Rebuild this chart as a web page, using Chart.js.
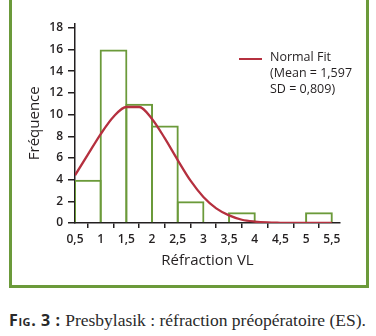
<!DOCTYPE html>
<html><head><meta charset="utf-8">
<script src="https://cdn.jsdelivr.net/npm/chart.js@4.4.1/dist/chart.umd.min.js"></script>
<style>
html,body{margin:0;padding:0;background:#fff;width:376px;height:336px;overflow:hidden;position:relative}
#box{position:absolute;left:9px;top:-10px;width:360px;height:298px;border:3px solid #6b9a3a;box-sizing:border-box}
#wrap{position:absolute;left:0;top:0;width:376px;height:290px}
#legend{position:absolute;left:239px;top:49px;font-family:"Open Sans",sans-serif;font-size:12.5px;line-height:16px;color:#231f20}
#legend .sw{position:absolute;left:0;top:9px;width:23px;height:2px;background:#b5303f}
#legend .tx{position:absolute;left:31px;top:0;white-space:nowrap}
#cap{position:absolute;left:9px;top:309px;white-space:nowrap;color:#2a2a2a}
#cap .fig{font-family:"Open Sans",sans-serif;font-weight:700;font-variant:small-caps;font-size:16px;letter-spacing:0.6px}
#cap .txt{font-family:"Liberation Serif",serif;font-size:17.5px}
</style></head>
<body>
<div id="box"></div>
<div id="wrap"><canvas id="c" width="376" height="290"></canvas></div>
<div id="legend"><div class="sw"></div><div class="tx" id="legtx"></div></div>
<div id="cap"><span class="fig">Fig. 3 :</span><span class="txt"> Presbylasik : réfraction préopératoire (ES).</span></div>
<script>
const binStarts = [0.5, 1, 1.5, 2, 2.5, 3, 3.5, 4, 4.5, 5];
const binCounts = [4, 16, 11, 9, 2, 0, 1, 0, 0, 1];
const fitX = [0.5,0.75,1,1.25,1.5,1.75,2,2.25,2.5,2.75,3,3.25,3.5,3.75,4,4.25,4.5,4.75,5,5.25,5.5];
const fitY = [4.4,6.3,8.2,9.8,10.7,10.7,9.6,7.8,5.8,3.9,2.4,1.35,0.7,0.3,0.13,0.05,0.02,0,0,0,0];
const xTicks = [0.5,1,1.5,2,2.5,3,3.5,4,4.5,5,5.5];
const xTickLabels = ['0,5','1','1,5','2','2,5','3','3,5','4','4,5','5','5,5'];
const yTicks = [0,2,4,6,8,10,12,14,16,18];
const yTickLabels = ['0','2','4','6','8','10','12','14','16','18'];
const legendLines = ['Normal Fit','(Mean = 1,597','SD = 0,809)'];
const xTitle = 'Réfraction VL';
const yTitle = 'Fréquence';

document.getElementById('legtx').innerHTML = legendLines.join('<br>');

const BIN_W = 0.5;
const barData = binStarts.map((s,i)=>({x:s+BIN_W/2, y:binCounts[i]}));
const fitData = fitX.map((x,i)=>({x:x, y:fitY[i]}));
const GREEN = '#6b9a3a', RED = '#b5303f', INK = '#231f20';
const tickFont = {family:'"Open Sans", sans-serif', size:12, weight:'600'};
const titleFont = {family:'"Open Sans", sans-serif', size:15, weight:'500'};

new Chart(document.getElementById('c'), {
  type:'bar',
  data:{datasets:[
    {type:'line', data:fitData, borderColor:RED, borderWidth:2.3, pointRadius:0, cubicInterpolationMode:'monotone', fill:false, order:0},
    {type:'bar', data:barData, backgroundColor:'rgba(0,0,0,0)', borderColor:GREEN,
     borderWidth:2, borderSkipped:'start', barPercentage:1.08, categoryPercentage:1, order:1}
  ]},
  options:{
    responsive:false, animation:false, events:[],
    layout:{padding:{left:0,right:36,top:23.5,bottom:0}},
    plugins:{legend:{display:false}, tooltip:{enabled:false}},
    scales:{
      x:{type:'linear', min:0.5, max:5.66, offset:false,
        afterBuildTicks:s=>{s.ticks = xTicks.map(v=>({value:v}));},
        afterFit:s=>{s.height = 67;},
        ticks:{color:INK, font:tickFont, padding:4, maxRotation:0, autoSkip:false,
          callback:(v)=>{const i=xTicks.indexOf(v); return i>=0?xTickLabels[i]:'';}},
        grid:{display:true, drawOnChartArea:false, drawTicks:true, tickLength:5, color:INK, lineWidth:1.5},
        border:{display:true, color:INK, width:1.5},
        title:{display:true, text:xTitle, color:INK, font:titleFont, padding:{top:0,bottom:20}}
      },
      y:{type:'linear', min:0, max:18.4,
        afterBuildTicks:s=>{s.ticks = yTicks.map(v=>({value:v}));},
        afterFit:s=>{s.width = 75;},
        ticks:{color:INK, font:tickFont, padding:5,
          callback:(v)=>{const i=yTicks.indexOf(v); return i>=0?yTickLabels[i]:'';}},
        grid:{display:true, drawOnChartArea:false, drawTicks:true, tickLength:7, color:INK, lineWidth:1.5},
        border:{display:true, color:INK, width:1.5},
        title:{display:true, text:yTitle, color:INK, font:titleFont, padding:{top:26,bottom:0}}
      }
    }
  }
});
</script>
</body></html>
